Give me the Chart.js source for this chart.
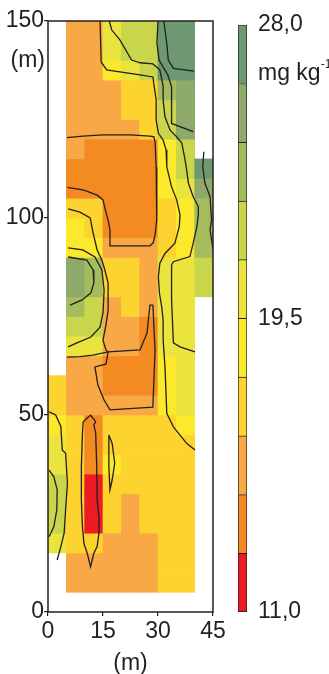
<!DOCTYPE html>
<html>
<head>
<meta charset="utf-8">
<script src="https://cdn.jsdelivr.net/npm/chart.js@4.4.0/dist/chart.umd.min.js"></script>
<style>
  html, body { margin: 0; padding: 0; background: #fff; }
  #wrap { position: relative; width: 329px; height: 674px; }
  #mapBox { position: absolute; left: 0; top: 0; width: 232px; height: 674px; }
  #barBox { position: absolute; left: 232px; top: 0; width: 97px; height: 674px; }
</style>
</head>
<body>
<div id="wrap">
  <div id="mapBox"><canvas id="mapChart"></canvas></div>
  <div id="barBox"><canvas id="legendChart"></canvas></div>
</div>
<script>
// grid of 5 x 5 m cells: lower-left corners (m)
const colStarts = [0, 5, 10, 15, 20, 25, 30, 35, 40];
const rowStarts = [5, 10, 15, 20, 25, 30, 35, 40, 45, 50, 55, 60, 65, 70, 75,
  80, 85, 90, 95, 100, 105, 110, 115, 120, 125, 130, 135, 140, 145];
const cellSize = 5;

// mg kg-1 per cell, one array per column, bottom (5 m) to top (145 m); null = no sample
const col0 = [null, null, 20.4, 22.0, 22.0, 22.0, 20.4, 20.4, 18.6, 17.0, 17.0,
  null, null, null, null, null, null, null, null, null, null, null, null, null, null, null, null, null, null];
const col5 = [15.2, 15.2, 17.0, 17.0, 17.0, 17.0, 17.0, 17.0, 17.0, 15.2, 15.2, 15.2, 20.4, 22.0, 23.8,
  25.4, 25.4, 18.6, 18.6, 17.0, 13.6, 13.6, 15.2, 15.2, 15.2, 15.2, 15.2, 15.2, 15.2];
const col10 = [15.2, 15.2, 17.0, 11.9, 11.9, 11.9, 13.6, 13.6, 13.6, 15.2, 15.2, 15.2, 20.4, 22.0, 22.0,
  23.8, 23.8, 18.6, 17.0, 17.0, 13.6, 13.6, 13.6, 15.2, 15.2, 15.2, 15.2, 15.2, 15.2];
const col15 = [15.2, 15.2, 15.2, 17.0, 17.0, 17.0, 18.6, 17.0, 17.0, 15.2, 13.6, 13.6, 15.2, 15.2, 15.2,
  17.0, 17.0, 15.2, 13.6, 13.6, 13.6, 13.6, 13.6, 15.2, 15.2, 15.2, 18.6, 20.4, 20.4];
const col20 = [15.2, 15.2, 15.2, 15.2, 15.2, 17.0, 17.0, 17.0, 17.0, 15.2, 13.6, 13.6, 15.2, 15.2, 17.0,
  17.0, 17.0, 15.2, 13.6, 13.6, 13.6, 13.6, 13.6, 15.2, 17.0, 17.0, 20.4, 22.0, 22.0];
const col25 = [15.2, 15.2, 15.2, 17.0, 17.0, 17.0, 17.0, 17.0, 17.0, 15.2, 13.6, 13.6, 13.6, 13.6, 15.2,
  15.2, 15.2, 15.2, 13.6, 13.6, 13.6, 13.6, 13.6, 17.0, 17.0, 17.0, 22.0, 22.0, 22.0];
const col30 = [17.0, 17.0, 17.0, 17.0, 17.0, 17.0, 17.0, 17.0, 17.0, 18.6, 18.6, 18.6, 20.4, 20.4, 20.4,
  20.4, 20.4, 17.0, 17.0, 17.0, 18.6, 18.6, 18.6, 22.0, 22.0, 23.8, 27.2, 27.2, 27.2];
const col35 = [17.0, 17.0, 17.0, 17.0, 17.0, 17.0, 17.0, 17.0, 18.6, 20.4, 20.4, 20.4, 20.4, 20.4, 20.4,
  20.4, 20.4, 18.6, 18.6, 18.6, 20.4, 22.0, 22.0, 25.4, 25.4, 25.4, 27.2, 27.2, 27.2];
const col40 = [null, null, null, null, null, null, null, null, null, null, null, null, null, null, null,
  22.0, 22.0, 23.8, 23.8, 23.8, 25.4, 27.2, null, null, null, null, null, null, null];

const iso1 = [[14.2, 150], [14.5, 139.6], [16.0, 137.6], [19.6, 137.1], [25.1, 136.3], [28.6, 135.8], [29.5, 129.9],
  [29.5, 124.9], [30.1, 121.5], [31.4, 119.8], [32.2, 117.3], [32.4, 113.0], [33.7, 107.9], [35.1, 104.6],
  [36.0, 100.8], [35.8, 97.8], [34.6, 93.6], [31.9, 91.0], [30.5, 88.5], [30.1, 85.1], [30.4, 80.9],
  [31.0, 77.5], [31.4, 74.1], [31.4, 69.0], [31.9, 62.3], [32.4, 50.4], [34.2, 47.0], [37.8, 42.8], [40.1, 41.1]];
const iso2 = [[16.7, 150], [17.4, 147.7], [19.6, 145.2], [22.8, 140.1], [25.1, 139.4], [28.6, 139.1], [30.5, 137.6],
  [31.4, 133.5], [31.4, 129.9], [31.9, 125.7], [33.3, 122.3], [35.1, 120.6], [36.5, 119.0], [37.4, 114.7],
  [37.8, 112.2], [38.3, 108.8], [39.6, 105.4], [41.0, 102.9], [41.0, 100.8], [40.6, 97.8], [39.6, 93.6],
  [38.7, 90.2], [34.2, 88.9], [33.7, 88.1], [33.7, 79.2], [34.2, 68.3], [36.0, 67.3], [40.1, 66.0]];
const iso3 = [[30.0, 150], [29.7, 144.4], [30.3, 140.1], [31.4, 138.3], [32.7, 136.3], [33.7, 133.3],
  [33.7, 124.0], [39.6, 121.9]];
const iso4 = [[31.6, 150], [32.4, 144.3], [32.8, 140.1], [34.2, 138.0], [39.8, 137.3]];
const iso5 = [[42.5, 116.8], [42.2, 113.0], [42.8, 108.8], [44.2, 105.4], [44.6, 99.5], [44.2, 97.0], [45, 92.0]];
const iso6 = [[5.2, 120.4], [9.5, 120.8], [15.0, 121.1], [22.4, 121.1], [27.8, 120.8], [28.9, 120.6], [29.2, 119.3],
  [29.5, 112.9], [29.7, 106.3], [29.6, 99.5], [29.2, 95.7], [28.7, 93.7], [27.8, 92.9], [16.9, 92.9],
  [16.9, 97.0], [16.4, 99.5], [15.7, 101.8], [15.0, 104.6], [13.4, 105.8], [9.8, 107.1], [5.3, 107.8]];
const iso7 = [[16.4, 66.0], [25.1, 66.5], [27.0, 70.8], [27.8, 77.9], [28.6, 77.9], [29.2, 66.5], [28.6, 52.0],
  [16.9, 51.3], [15.3, 53.8], [13.6, 57.6], [12.8, 62.2], [15.8, 62.9], [16.4, 66.0]];
const iso8 = [[5.2, 64.7], [8.7, 64.8], [12.3, 65.2], [16.4, 66.0]];
const iso9 = [[5.5, 102.3], [8.7, 101.5], [11.5, 100.0], [12.3, 96.2], [13.4, 91.9], [14.7, 89.3], [15.5, 86.8],
  [16.4, 83.5], [16.4, 76.6], [15.8, 72.8], [15.0, 69.0], [15.8, 66.5], [16.4, 66.0]];
const iso10 = [[5.5, 92.4], [9.5, 91.9], [12.8, 90.1], [14.7, 86.8], [15.3, 81.7], [15.0, 75.9], [14.2, 72.3],
  [11.7, 69.8], [7.9, 68.3], [5.5, 67.3]];
const iso11 = [[5.5, 90.1], [10.6, 89.3], [12.3, 86.8], [12.5, 83.5], [11.7, 81.0], [9.3, 79.2], [6.0, 77.9]];
const iso12 = [[0.3, 50.8], [2.1, 50.0], [3.5, 47.1], [3.9, 41.1], [4.8, 40.3], [5.3, 32.7], [4.8, 25.9],
  [4.4, 20.0], [3.5, 16.6], [2.5, 13.2]];
const iso13 = [[0.3, 36.0], [1.6, 34.3], [2.5, 31.0], [2.4, 25.9], [1.6, 21.7], [0.3, 19.1]];
const iso14 = [[11.6, 50.0], [13.0, 48.3], [12.5, 47.5], [13.0, 45.4], [13.3, 36.9], [13.4, 28.4], [13.9, 24.2],
  [13.9, 20.0], [13.4, 16.6], [12.5, 14.9], [11.6, 11.5], [10.7, 14.9], [9.8, 17.4], [9.4, 21.6], [9.1, 28.4],
  [9.1, 36.9], [9.4, 45.4], [9.6, 48.3], [11.6, 50.0]];
const iso15 = [[16.6, 44.9], [17.5, 42.8], [18.2, 37.8], [17.5, 33.5], [16.9, 31.0], [16.6, 36.9], [16.6, 44.9]];

// legend classes (mg kg-1) and labelled ticks
const classEdges = [11.0, 12.7, 14.4, 16.1, 17.8, 19.5, 21.2, 22.9, 24.6, 26.3, 28.0];
const legendTicks = [11.0, 19.5, 28.0];
const xTicks = [0, 15, 30, 45];
const yTicks = [0, 50, 100, 150];

const classColors = ['#ec1c24', '#f48a22', '#f8a945', '#fdd32f', '#fde92b',
  '#ebe43e', '#c9d64c', '#a4bc5d', '#8eaa6a', '#6e9871'];
const ink = '#231f20';
const fontFamily = '"Liberation Sans", Arial, sans-serif';

Chart.defaults.font.family = fontFamily;
Chart.defaults.color = ink;

function colorFor(v) {
  for (let i = 0; i < classColors.length; i++) {
    if (v < classEdges[i + 1]) return classColors[i];
  }
  return classColors[classColors.length - 1];
}

const columns = [col0, col5, col10, col15, col20, col25, col30, col35, col40];
const cells = [];
columns.forEach((vals, i) => {
  vals.forEach((v, j) => {
    if (v === null) return;
    cells.push({ x: colStarts[i] + cellSize / 2, y: [rowStarts[j], rowStarts[j] + cellSize], v: v });
  });
});

const isolines = [iso1, iso2, iso3, iso4, iso5, iso6, iso7, iso8, iso9, iso10, iso11, iso12, iso13, iso14, iso15];
const lineSets = isolines.map(pts => ({
  type: 'line',
  data: pts.map(p => ({ x: p[0], y: p[1] })),
  borderColor: ink,
  borderWidth: 1.3,
  pointRadius: 0,
  fill: false,
  tension: 0,
  order: 0
}));

// frame round the map plus the two "(m)" notes
const mapFrame = {
  id: 'mapFrame',
  afterDraw(chart) {
    const { ctx, chartArea: a } = chart;
    ctx.save();
    ctx.strokeStyle = ink;
    ctx.lineWidth = 1.5;
    ctx.strokeRect(a.left, a.top, a.right - a.left, a.bottom - a.top);
    ctx.fillStyle = ink;
    ctx.font = '23px ' + fontFamily;
    ctx.textBaseline = 'middle';
    ctx.textAlign = 'right';
    ctx.fillText('(m)', a.left - 3, a.top + 40);
    ctx.textAlign = 'center';
    ctx.fillText('(m)', (a.left + a.right) / 2, a.bottom + 52);
    ctx.restore();
  }
};

new Chart(document.getElementById('mapChart'), {
  type: 'bar',
  data: {
    datasets: [
      ...lineSets,
      {
        data: cells,
        backgroundColor: c => colorFor(c.raw.v),
        borderWidth: 0,
        barPercentage: 1,
        categoryPercentage: 1,
        order: 1
      }
    ]
  },
  options: {
    responsive: true,
    maintainAspectRatio: false,
    animation: false,
    events: [],
    layout: { padding: { top: 21, right: 19, bottom: 0, left: 0 } },
    plugins: { legend: { display: false }, tooltip: { enabled: false } },
    scales: {
      x: {
        type: 'linear',
        min: 0,
        max: 45,
        offset: false,
        afterFit: s => { s.height = 62; },
        afterBuildTicks: s => { s.ticks = xTicks.map(v => ({ value: v })); },
        grid: { offset: false, drawOnChartArea: false, drawTicks: true, tickLength: 4, color: ink, lineWidth: 1.2 },
        border: { display: false },
        ticks: { padding: 2, font: { size: 23 }, color: ink, maxRotation: 0 }
      },
      y: {
        type: 'linear',
        min: 0,
        max: 150,
        afterFit: s => { s.width = 48; },
        afterBuildTicks: s => { s.ticks = yTicks.map(v => ({ value: v })); },
        grid: { drawOnChartArea: false, drawTicks: true, tickLength: 4, color: ink, lineWidth: 1.2 },
        border: { display: false },
        ticks: { padding: 0, font: { size: 23 }, color: ink }
      }
    }
  },
  plugins: [mapFrame]
});

// colour bar
const unitNote = {
  id: 'unitNote',
  afterDraw(chart) {
    const { ctx } = chart;
    const x0 = chart.scales.y.left + 11;
    ctx.save();
    ctx.fillStyle = ink;
    ctx.textBaseline = 'alphabetic';
    ctx.textAlign = 'left';
    ctx.font = '23px ' + fontFamily;
    ctx.fillText('mg kg', x0, 80);
    const w = ctx.measureText('mg kg').width;
    ctx.font = '12px ' + fontFamily;
    ctx.fillText('-1', x0 + w, 68);
    ctx.restore();
  }
};

const legendSets = classColors.map((col, i) => ({
  data: [[classEdges[i], classEdges[i + 1]]],
  backgroundColor: col,
  borderColor: ink,
  borderWidth: { top: 1, left: 1, right: 1, bottom: i === 0 ? 1 : 0 },
  borderSkipped: false,
  grouped: false,
  barPercentage: 1,
  categoryPercentage: 1
}));

new Chart(document.getElementById('legendChart'), {
  type: 'bar',
  data: { labels: [''], datasets: legendSets },
  options: {
    responsive: true,
    maintainAspectRatio: false,
    animation: false,
    events: [],
    layout: { padding: { top: 20, right: 0, bottom: 62, left: 6 } },
    plugins: { legend: { display: false }, tooltip: { enabled: false } },
    scales: {
      x: { display: false },
      y: {
        position: 'right',
        min: 11,
        max: 28,
        afterFit: s => { s.width = 82; },
        afterBuildTicks: s => { s.ticks = legendTicks.map(v => ({ value: v })); },
        grid: { display: false, drawTicks: false },
        border: { display: false },
        ticks: {
          padding: 11,
          font: { size: 23 },
          color: ink,
          callback: v => v.toFixed(1).replace('.', ',')
        }
      }
    }
  },
  plugins: [unitNote]
});
</script>
</body>
</html>
